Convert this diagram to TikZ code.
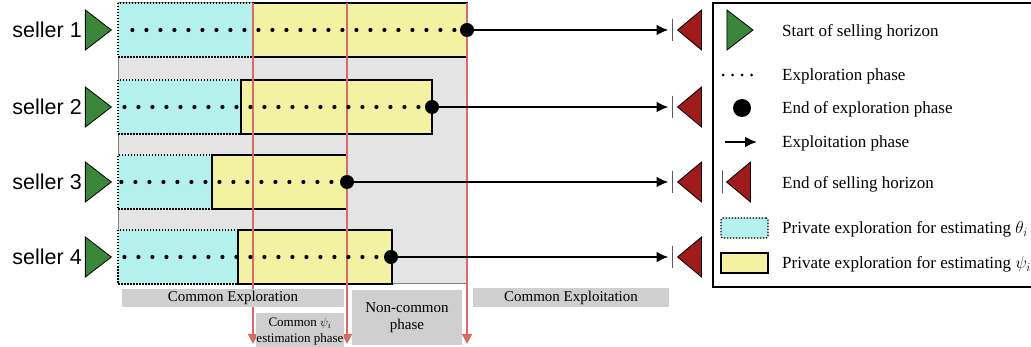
\documentclass[tikz,border=0pt]{standalone}
\usepackage{fontspec}
\setmainfont{Liberation Serif}
\setsansfont{Liberation Sans}
\usetikzlibrary{arrows.meta,shapes.geometric,positioning}
\definecolor{thetafill}{RGB}{181,241,236}
\definecolor{psifill}{RGB}{243,241,162}
\definecolor{startgreen}{RGB}{58,135,58}
\definecolor{endred}{RGB}{160,27,27}
\definecolor{phaseline}{RGB}{216,106,106}
\definecolor{commonbg}{RGB}{228,228,228}
\definecolor{labelbg}{RGB}{207,207,207}

\begin{document}
\begin{tikzpicture}[
    x=1pt, y=-1pt,
    >={Latex[length=12pt,width=11pt]},
    font=\fontsize{17}{20}\selectfont,
    thetabox/.style={
		rectangle,
		draw=black,
		dash pattern=on 1.5pt off 1.5pt,
		line width=1.2pt,
		fill=thetafill,
		inner sep=0pt,
		minimum height=54pt
	},
    psibox/.style={
		rectangle,
		draw=black,
		line width=1.4pt,
		fill=psifill,
		inner sep=0pt,
		minimum height=54pt
	},
    starttri/.style={
		isosceles triangle,
		isosceles triangle stretches,
		minimum height=26pt,
		minimum width=40pt,
		inner sep=0pt,
		draw=black, line width=0.8pt,
		fill=startgreen
	},
    endtri/.style={
		starttri,
		shape border rotate=180,
		minimum height=24pt,
		fill=endred
	},
    endbar/.style={
		rectangle,
		draw=black, line width=1pt,
		inner sep=0pt,
		minimum width=0pt,
		minimum height=22pt
	},
    enddot/.style={
		circle,
		fill=black,
		inner sep=0pt,
		minimum size=14pt
	},
    seller/.style={
		font=\sffamily\fontsize{21.5}{24}\selectfont,
		inner sep=0pt
	},
    explore/.style={
		line width=4.2pt,
		line cap=round,
		dash pattern=on 0pt off 14pt
	},
    exploit/.style={
		->,
		line width=2.6pt,
		shorten >=3pt
	},
    phase/.style={
		draw=phaseline,
		line width=1.6pt,
		-{Triangle[length=10pt,width=10pt]}
	},
    phaselabel/.style={
		rectangle,
		fill=labelbg,
		inner sep=0pt,
		font=\fontsize{15}{17}\selectfont,
		align=center
	},
    legtext/.style={
		anchor=base west,
		inner sep=0pt
	}
  ]
  \useasboundingbox (0,0) rectangle (1031,347);

    % common part of the horizon
  \draw [draw=gray, line width=1pt, fill=commonbg] (118,3) rectangle (467,284);

  \node [thetabox, minimum width=135pt] (theta1) at (185.5,30) {};
  \node [psibox, minimum width=214pt] (psi1) at (360,30) {};
  \node [thetabox, minimum width=123pt] (theta2) at (179.5,107) {};
  \node [psibox, minimum width=191pt] (psi2) at (336.5,107) {};
  \node [thetabox, minimum width=94pt] (theta3) at (165,182) {};
  \node [psibox, minimum width=135pt] (psi3) at (279.5,182) {};
  \node [thetabox, minimum width=120pt] (theta4) at (178,257) {};
  \node [psibox, minimum width=154pt] (psi4) at (315,257) {};

  \coordinate (psistart) at (253,3);
  \coordinate (psistartlow) at (253,344);
  \coordinate (noncommonstart) at (347,3);
  \coordinate (noncommonstartlow) at (347,344);
  \coordinate (exploitstart) at (467,3);
  \coordinate (exploitstartlow) at (467,344);
  \draw [phase] (psistart) -- (psistartlow);
  \draw [phase] (noncommonstart) -- (noncommonstartlow);
  \draw [phase] (exploitstart) -- (exploitstartlow);

    % sellers
  \node [enddot] (end1) at (467,30) {};
  \node [enddot] (end2) at (432,107) {};
  \node [enddot] (end3) at (347,182) {};
  \node [enddot] (end4) at (391,257) {};

  \draw [explore] ([xshift=15pt]theta1.west) -- (end1);
  \draw [explore] ([xshift=7pt]theta2.west) -- (end2);
  \draw [explore] ([xshift=4pt]theta3.west) -- (end3);
  \draw [explore] ([xshift=7pt]theta4.west) -- (end4);

  \node [starttri, left=5pt of theta1.west] (start1) {};
  \node [starttri, left=5pt of theta2.west] (start2) {};
  \node [starttri, left=5pt of theta3.west] (start3) {};
  \node [starttri, left=5pt of theta4.west] (start4) {};

  \node [seller, left=3pt of start1] (seller1) {seller 1};
  \node [seller, left=3pt of start2] (seller2) {seller 2};
  \node [seller, left=3pt of start3] (seller3) {seller 3};
  \node [seller, left=3pt of start4] (seller4) {seller 4};

  \node [endbar] (bar1) at (672,30) {};
  \node [endbar] (bar2) at (672,107) {};
  \node [endbar] (bar3) at (672,182) {};
  \node [endbar] (bar4) at (672,257) {};

  \node [endtri, right=4pt of bar1] (stop1) {};
  \node [endtri, right=4pt of bar2] (stop2) {};
  \node [endtri, right=4pt of bar3] (stop3) {};
  \node [endtri, right=4pt of bar4] (stop4) {};

  \draw [exploit] (end1) -- (bar1);
  \draw [exploit] (end2) -- (bar2);
  \draw [exploit] (end3) -- (bar3);
  \draw [exploit] (end4) -- (bar4);

    % phases
  \node [phaselabel, minimum width=222pt, minimum height=18pt] (commonexplore) at (233,298) {Common Exploration};
  \node [phaselabel, minimum width=86pt, minimum height=38pt, font=\fontsize{13}{16}\selectfont] (commonpsi) at (300,332) {Common $\psi_i$\\estimation phase};
  \node [phaselabel, minimum width=110pt, minimum height=55pt] (noncommon) at (407,317.5) {Non-common\\phase};
  \node [phaselabel, minimum width=196pt, minimum height=19pt] (commonexploit) at (571,297.5) {Common Exploitation};

    % legend
  \draw [line width=1.5pt] (1036,3) -- (713,3) -- (713,287) -- (1036,287);

  \node [starttri, anchor=east] (lgstart) at (754,30) {};
  \coordinate (lgdotsA) at (723,75);
  \coordinate (lgdotsB) at (753,75);
  \draw [line width=3pt, line cap=round, dash pattern=on 0pt off 9.5pt] (lgdotsA) -- (lgdotsB);
  \node [enddot, minimum size=18pt] (lgend) at (742,108) {};
  \coordinate (lgarrowA) at (725,142);
  \coordinate (lgarrowB) at (757,142);
  \draw [->, line width=2.8pt] (lgarrowA) -- (lgarrowB);
  \node [endbar, minimum height=23pt] (lgbar) at (722,182) {};
  \node [endtri, right=3pt of lgbar] (lgstop) {};
  \node [thetabox, rounded corners=2pt, minimum width=47pt, minimum height=20pt] (lgtheta) at (744.5,228) {};
  \node [psibox, minimum width=47pt, minimum height=20pt] (lgpsi) at (744.5,263) {};

  \node [legtext] (lgstarttext) at (782,37) {Start of selling horizon};
  \node [legtext] (lgdotstext) at (782,81) {Exploration phase};
  \node [legtext] (lgendtext) at (782,114) {End of exploration phase};
  \node [legtext] (lgarrowtext) at (782,148) {Exploitation phase};
  \node [legtext] (lgstoptext) at (782,189) {End of selling horizon};
  \node [legtext] (lgthetatext) at (782,234) {Private exploration for estimating $\theta_i$};
  \node [legtext] (lgpsitext) at (782,269) {Private exploration for estimating $\psi_i$};

\end{tikzpicture}
\end{document}
